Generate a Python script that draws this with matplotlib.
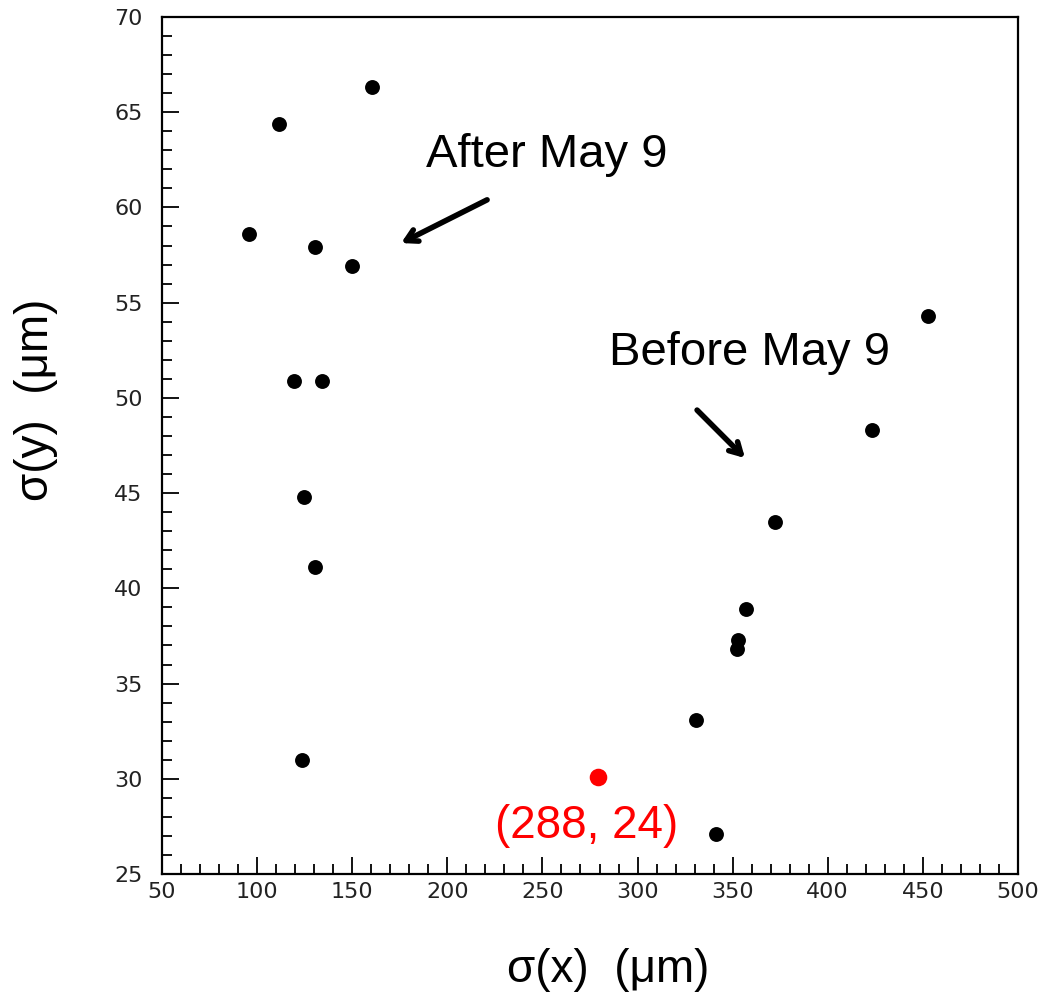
import matplotlib
matplotlib.use("Agg")
import matplotlib.pyplot as plt
from matplotlib.ticker import MultipleLocator

# Data: sigma(x), sigma(y) in micrometres
after_x = [160.4, 111.5, 95.7, 130.4, 149.9, 119.4, 134.1, 124.7, 130.4, 123.6]
after_y = [66.3, 64.4, 58.6, 57.9, 56.9, 50.9, 50.9, 44.8, 41.1, 31.0]
before_x = [452.7, 423.3, 372.3, 357.0, 352.8, 352.3, 330.8, 341.3]
before_y = [54.3, 48.3, 43.5, 38.9, 37.3, 36.8, 33.1, 27.1]
red_x = [279.2]
red_y = [30.1]
red_label = "(288, 24)"

xticks = [50, 100, 150, 200, 250, 300, 350, 400, 450, 500]
yticks = [25, 30, 35, 40, 45, 50, 55, 60, 65, 70]

plt.rcParams['font.family'] = ['Liberation Sans', 'DejaVu Sans']

fig = plt.figure(figsize=(10.4, 9.94), dpi=100)
ax = fig.add_axes([0.1558, 0.1207, 0.8230, 0.8622])

ax.scatter(after_x, after_y, s=115, color='black', zorder=3, linewidths=0)
ax.scatter(before_x, before_y, s=115, color='black', zorder=3, linewidths=0)
ax.scatter(red_x, red_y, s=160, color='red', zorder=3, linewidths=0)

ax.set_xlim(50, 500)
ax.set_ylim(25, 70)
ax.set_xticks(xticks)
ax.set_yticks(yticks)
ax.xaxis.set_minor_locator(MultipleLocator(10))
ax.yaxis.set_minor_locator(MultipleLocator(1))
ax.tick_params(which='both', direction='in', top=False, right=False, width=1.3, color='black')
ax.tick_params(which='major', length=12, labelsize=16)
ax.tick_params(axis='y', which='major', pad=14)
ax.tick_params(axis='x', which='major', pad=6)
ax.tick_params(which='minor', length=7)
for lab in ax.get_xticklabels() + ax.get_yticklabels():
    lab.set_family(['DejaVu Sans'])
    lab.set_color('#222222')
for sp in ax.spines.values():
    sp.set_linewidth(1.6)

# Annotations
ax.annotate("", xy=(175.7, 58.13), xytext=(220.9, 60.4),
            arrowprops=dict(arrowstyle='->,head_length=0.8,head_width=0.45', lw=4, color='black',
                            shrinkA=0, shrinkB=0))
ax.text(252.4, 62.75, "After May 9", fontsize=34, ha='center', va='center', color='black')

ax.annotate("", xy=(356.5, 46.84), xytext=(331.3, 49.36),
            arrowprops=dict(arrowstyle='->,head_length=0.8,head_width=0.45', lw=4, color='black',
                            shrinkA=0, shrinkB=0))
ax.text(359.1, 52.35, "Before May 9", fontsize=34, ha='center', va='center', color='black')

ax.text(273.4, 27.5, red_label, fontsize=33, ha='center', va='center', color='red')

fig.text(608 / 1040, 1 - 970 / 994, "σ(x)  (μm)", fontsize=33, ha='center', va='center')
fig.text(36 / 1040, 1 - 400 / 994, "σ(y)  (μm)", fontsize=33, ha='center', va='center', rotation=90)

fig.savefig("out.png", dpi=100)
